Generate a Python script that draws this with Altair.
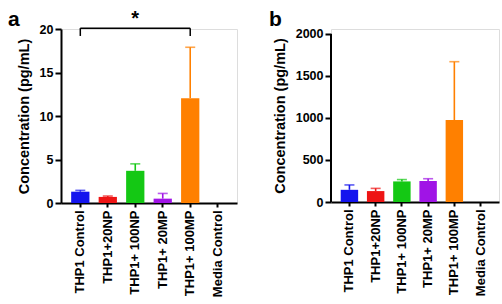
import altair as alt
import pandas as pd

# Treatment groups (shared by both panels)
groups = ["THP1 Control", "THP1+20NP", "THP1+ 100NP", "THP1+ 20MP", "THP1+ 100MP", "Media Control"]
bar_colors = ["#1414ee", "#ee1414", "#14c814", "#a014e6", "#ff8000", "#888888"]
err_colors = ["#4a55dd", "#e84848", "#48c848", "#b060e6", "#e8c894", "#888888"]

# Panel a: mean concentration and SEM (pg/mL)
a_mean = [1.3, 0.7, 3.7, 0.5, 12.05, 0.0]
a_sem = [0.15, 0.1, 0.8, 0.6, 5.85, 0.0]
a_ticks = [0, 5, 10, 15, 20]

# Panel b: mean concentration and SEM (pg/mL)
b_mean = [145, 130, 245, 250, 975, 0]
b_sem = [58, 32, 22, 27, 695, 0]
b_ticks = [0, 500, 1000, 1500, 2000]
b_headroom = 2059  # scale top; the axis line itself stops at the last tick

# Significance bracket in panel a
sig_from, sig_to, sig_mid = "THP1 Control", "THP1+ 100MP", "THP1+ 100NP"
sig_top, sig_leg, sig_star = 20.1, 19.2, 20.42

FONT = "Liberation Sans"

x_scale = alt.Scale(domain=groups, paddingInner=0.335, paddingOuter=0.37)


def x_enc(field):
    return alt.X(
        f"{field}:N", scale=x_scale,
        axis=alt.Axis(
            title=None, labelAngle=-90, labelFontSize=13, labelFontWeight="bold",
            labelFont=FONT, labelColor="black", labelPadding=3,
            domainColor="black", domainWidth=2, tickColor="black", tickWidth=2,
            tickSize=4, labelLimit=200,
        ),
    )


def panel(means, sems, ticks, letter, letter_dx, y_top, draw_domain):
    df = pd.DataFrame({
        "group": groups,
        "mean": means,
        "upper": [m + s for m, s in zip(means, sems)],
        "sem": sems,
    })
    x = x_enc("group")
    y_scale = alt.Scale(domain=[ticks[0], y_top], nice=False)
    y_axis = alt.Axis(
        title="Concentration (pg/mL)", values=ticks, grid=False, format="d",
        titleFont=FONT, titleFontSize=14.5, titleFontWeight="bold", titleColor="black",
        titlePadding=8, labelFont=FONT, labelFontSize=12.5, labelFontWeight="bold",
        labelColor="black", labelPadding=2, domain=draw_domain, domainColor="black",
        domainWidth=2, tickColor="black", tickWidth=2, tickSize=6,
    )
    color = alt.Color("group:N", scale=alt.Scale(domain=groups, range=bar_colors), legend=None)
    ecolor = alt.Color("group:N", scale=alt.Scale(domain=groups, range=err_colors), legend=None)

    base = alt.Chart(df)
    bars = base.mark_bar().encode(x=x, y=alt.Y("mean:Q", scale=y_scale, axis=y_axis), color=color)
    errs = base.transform_filter("datum.sem > 0")
    stems = errs.mark_rule(strokeWidth=1.6).encode(
        x=x, y="mean:Q", y2="upper:Q", color=ecolor
    )
    caps = errs.mark_tick(size=10, thickness=1.6).encode(
        x=x, y="upper:Q", color=ecolor
    )
    label = alt.Chart(pd.DataFrame({"t": [letter]})).mark_text(
        font=FONT, fontSize=21, fontWeight="bold", align="left", baseline="alphabetic",
        color="black",
    ).encode(text="t:N", x=alt.value(letter_dx), y=alt.value(-3))
    layers = [bars, stems, caps, label]
    if not draw_domain:
        # vertical axis line running from the first to the last tick
        layers.append(
            alt.Chart(pd.DataFrame({"lo": [ticks[0]], "hi": [ticks[-1]]}))
            .mark_rule(color="black", strokeWidth=2)
            .encode(x=alt.value(0), y="lo:Q", y2="hi:Q")
        )
    return layers


layers_a = panel(a_mean, a_sem, a_ticks, "a", -53, a_ticks[-1], True)

# bracket with significance star between control and the 100MP group
bracket = pd.DataFrame({"g1": [sig_from], "g2": [sig_to], "y": [sig_top]})
legs = pd.DataFrame({"group": [sig_from, sig_to], "y1": [sig_leg, sig_leg], "y2": [sig_top, sig_top]})
star = pd.DataFrame({"group": [sig_mid], "y": [sig_star], "t": ["*"]})
top_line = alt.Chart(bracket).mark_rule(color="black", strokeWidth=1.5).encode(
    x=x_enc("g1"), x2="g2:N", y="y:Q"
)
leg_lines = alt.Chart(legs).mark_rule(color="black", strokeWidth=1.5).encode(
    x=x_enc("group"), y="y1:Q", y2="y2:Q"
)
star_text = alt.Chart(star).mark_text(
    font=FONT, fontSize=20, fontWeight="bold", baseline="alphabetic", color="black"
).encode(x=x_enc("group"), y="y:Q", text="t:N")

chart_a = alt.layer(*layers_a, top_line, leg_lines, star_text).properties(width=176, height=174)

layers_b = panel(b_mean, b_sem, b_ticks, "b", -62, b_headroom, False)
chart_b = alt.layer(*layers_b).properties(width=168, height=173)

chart = alt.hconcat(chart_a, chart_b, spacing=30).properties(
    padding={"left": 7, "top": 8, "right": 2, "bottom": 2}
).configure_view(stroke=None).configure(background="white")

chart.save("out.html", embed_options={"renderer": "svg", "actions": False})
